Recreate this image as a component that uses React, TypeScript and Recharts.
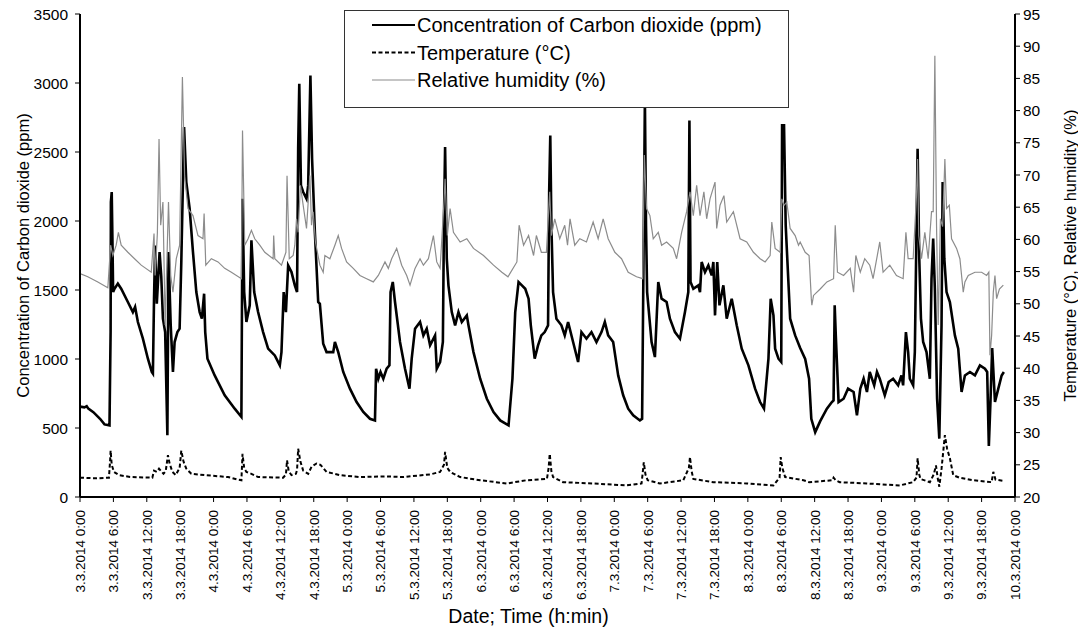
import React from 'react';
import { ComposedChart, Line, XAxis, YAxis } from 'recharts';

const FONT = '"Liberation Sans", Arial, sans-serif';

const xTicks = [0, 6, 12, 18, 24, 30, 36, 42, 48, 54, 60, 66, 72, 78, 84, 90, 96, 102, 108, 114, 120, 126, 132, 138, 144, 150, 156, 162, 168];
const xTickLabels = [
  '3.3.2014 0:00', '3.3.2014 6:00', '3.3.2014 12:00', '3.3.2014 18:00',
  '4.3.2014 0:00', '4.3.2014 6:00', '4.3.2014 12:00', '4.3.2014 18:00',
  '5.3.2014 0:00', '5.3.2014 6:00', '5.3.2014 12:00', '5.3.2014 18:00',
  '6.3.2014 0:00', '6.3.2014 6:00', '6.3.2014 12:00', '6.3.2014 18:00',
  '7.3.2014 0:00', '7.3.2014 6:00', '7.3.2014 12:00', '7.3.2014 18:00',
  '8.3.2014 0:00', '8.3.2014 6:00', '8.3.2014 12:00', '8.3.2014 18:00',
  '9.3.2014 0:00', '9.3.2014 6:00', '9.3.2014 12:00', '9.3.2014 18:00',
  '10.3.2014 0:00',
];
const leftTicks = [0, 500, 1000, 1500, 2000, 2500, 3000, 3500];
const rightTicks = [20, 25, 30, 35, 40, 45, 50, 55, 60, 65, 70, 75, 80, 85, 90, 95];

// [hours since 3.3.2014 0:00, ppm]
const co2Points: [number, number][] = [
  [0,655],[0.8,650],[1.2,658],[1.5,640],[2.4,615],[3.6,567],[4.4,526],[5.3,519],[5.5,1200],[5.55,2137],[5.7,2210],[5.85,1800],[5.95,1485],[6.2,1509],[6.8,1546],[7.4,1509],[8.6,1413],[9.5,1340],[9.9,1377],[10.4,1268],[11.3,1147],[12.2,1002],[12.9,906],[13.1,894],[13.3,1437],[13.5,1823],[13.8,1400],[14.3,1775],[14.6,1600],[14.9,1292],[15.3,1195],[15.7,447],[15.9,1775],[16.3,1244],[16.7,906],[17.0,1123],[17.5,1195],[17.9,1220],[18.2,1700],[18.7,2681],[19.1,2282],[19.7,2089],[20.3,1775],[20.9,1485],[21.5,1340],[21.9,1292],[22.3,1473],[22.5,1195],[22.9,1002],[24.2,881],[26,737],[27.8,640],[29.0,580],[29.2,2161],[29.5,1485],[29.9,1268],[30.5,1389],[30.8,1860],[31.3,1485],[32.0,1340],[32.9,1195],[33.8,1075],[35.0,1026],[35.9,954],[36.2,1050],[36.6,1485],[37.0,1340],[37.4,1678],[38.0,1630],[38.6,1534],[39.0,1485],[39.2,2523],[39.4,2995],[39.7,2258],[40.1,2210],[40.7,2161],[41.0,2258],[41.4,3055],[41.7,2451],[42.2,1920],[42.8,1413],[43.1,1400],[43.7,1110],[44.3,1050],[45.5,1050],[45.8,1123],[46.4,1050],[47.3,906],[48.5,785],[49.7,688],[50.9,616],[52.1,567],[53.0,555],[53.2,930],[53.6,857],[54.0,906],[54.5,857],[55.1,930],[55.6,954],[55.8,1485],[56.2,1558],[56.6,1413],[57.5,1123],[58.4,930],[59.2,785],[59.6,1002],[60.2,1220],[61.1,1268],[61.7,1171],[62.3,1220],[62.9,1099],[63.8,1171],[64.1,930],[64.7,978],[65.2,1123],[65.4,2017],[65.6,2536],[65.9,1727],[66.2,1534],[66.8,1340],[67.4,1244],[68.0,1340],[68.6,1268],[69.5,1316],[69.8,1244],[70.7,1050],[71.9,857],[73.1,712],[74.3,616],[75.5,555],[77.0,519],[77.2,616],[77.7,857],[78.2,1340],[78.8,1558],[79.4,1534],[80.0,1509],[80.6,1437],[81.0,1244],[81.7,1002],[82.3,1099],[82.9,1171],[83.5,1195],[84.1,1244],[84.3,2210],[84.5,2620],[84.7,1968],[85.0,1485],[85.6,1292],[86.5,1244],[87.1,1171],[87.7,1268],[88.6,1123],[89.5,978],[90.1,1195],[91.0,1147],[91.9,1195],[92.8,1123],[93.7,1195],[94.3,1268],[94.9,1171],[95.8,1123],[96.7,881],[97.6,737],[98.5,640],[99.4,592],[100.6,555],[101.0,567],[101.2,1485],[101.5,2886],[101.7,1968],[101.9,1485],[102.7,1123],[103.3,1014],[103.9,1558],[104.5,1437],[105.4,1413],[106.0,1292],[106.9,1195],[107.8,1147],[108.7,1340],[109.3,1485],[109.5,2729],[109.7,1558],[110.2,1509],[111.1,1534],[111.4,1485],[111.7,1703],[112.3,1630],[112.9,1678],[113.5,1606],[113.8,1703],[114.1,1316],[114.5,1703],[114.9,1389],[115.6,1534],[116.2,1292],[117.1,1437],[118.0,1244],[118.9,1075],[120.1,954],[121.3,785],[122.2,688],[122.9,640],[123.7,1002],[124.1,1437],[124.6,1316],[124.9,1075],[125.5,1002],[126.0,978],[126.15,2693],[126.5,2693],[126.8,1968],[127.6,1292],[128.5,1171],[129.4,1080],[130.3,1000],[131.0,857],[131.4,567],[132.1,470],[133.0,550],[134.2,640],[135.1,688],[135.4,700],[135.6,1389],[135.8,1171],[136.3,688],[137.2,712],[138.0,785],[139.0,761],[139.6,592],[140.2,785],[140.8,857],[141.4,761],[141.9,906],[142.7,809],[143.2,906],[143.7,857],[144.6,737],[145.3,833],[146.1,857],[147.0,809],[147.6,881],[147.9,809],[148.4,1195],[148.8,1050],[149.1,857],[149.7,809],[150.0,1050],[150.5,2523],[150.8,1727],[151.1,1292],[151.5,1123],[152.1,1050],[152.7,857],[153.0,1582],[153.3,1872],[153.6,1509],[154.0,712],[154.4,423],[154.8,1244],[155.0,2282],[155.3,1727],[155.7,1485],[156.3,1413],[157.2,1171],[157.8,1075],[158.4,761],[159.0,881],[159.9,906],[160.8,881],[161.7,954],[162.6,930],[163.0,906],[163.3,370],[163.6,700],[163.9,1080],[164.4,688],[165.0,785],[165.6,881],[166.0,906],
];

// [hours, °C]
const tempPoints: [number, number][] = [
  [0,23.0],[3,22.9],[5.2,23.0],[5.4,25.5],[5.5,27.2],[5.7,25],[6.1,23.9],[7,23.4],[9,23.1],[13,23.0],[13.3,24.1],[13.8,23.9],[14.2,24.4],[15.0,23.6],[15.4,24],[15.8,26.5],[16.1,25.2],[16.6,23.9],[17.2,23.4],[17.9,24.5],[18.2,27.2],[18.6,25.5],[19.1,24.4],[20,23.6],[22.4,23.4],[26.6,23.1],[28.4,22.7],[29.0,22.6],[29.2,26.7],[29.5,24.5],[29.9,23.9],[30.8,23.6],[32,23.1],[36.5,23.0],[37.0,23.5],[37.2,25.7],[37.5,24],[38,23.4],[38.8,23.6],[39.0,24.2],[39.2,27.5],[39.6,25.5],[40.1,24.1],[41.0,23.6],[41.6,24.7],[42.5,25.2],[43.2,25.0],[44.3,23.9],[46.7,23.4],[50.3,23.1],[55,23.2],[58,23.1],[62.9,23.5],[64.7,23.9],[65.4,25],[65.6,27.0],[66,24.5],[66.5,23.9],[68.3,23.1],[71.9,22.6],[76.7,22.1],[80.2,22.6],[83.9,22.8],[84.2,24.5],[84.4,26.7],[84.7,24.0],[85.0,23.1],[86.8,22.3],[92.2,22.1],[98.2,21.8],[100.9,22.1],[101.2,24.5],[101.3,25.4],[101.6,23.5],[102.0,22.6],[104.2,22.1],[108.4,22.6],[109.4,24.5],[109.6,26.2],[109.9,24],[110.2,22.8],[113.8,22.3],[119.8,22.1],[124.6,21.8],[125.7,23],[125.9,26.2],[126.2,24.5],[126.7,23.1],[130,22.6],[131,22.3],[135.2,22.6],[135.4,23.0],[135.8,22.6],[136.5,22.3],[141.4,22.1],[147.3,21.8],[149.7,22.3],[150.3,23],[150.5,26.0],[150.8,23.5],[151,22.8],[152.7,22.3],[153.4,23.5],[153.8,24.9],[154.1,23.0],[154.4,21.6],[154.8,24.4],[155.1,27],[155.4,29.6],[155.8,27.5],[156.3,26],[156.9,23.4],[158,23.0],[160.5,22.6],[163.8,22.3],[164.1,23.9],[164.5,22.7],[166,22.5],
];

// [hours, %]
const rhPoints: [number, number][] = [
  [0,54.7],[1.4,54.2],[3.2,53.4],[5.0,52.5],[5.5,59.1],[5.9,57.5],[6.5,59.1],[6.9,61.1],[7.4,59.1],[8.6,58],[9.8,57],[11.0,56],[12.8,54.9],[13.3,60.9],[13.5,54.4],[13.9,60.9],[14.2,75.6],[14.5,62.2],[14.9,65.8],[15.3,46.7],[15.9,65.8],[16.3,54.4],[16.7,51.8],[17.3,57],[17.9,59.1],[18.4,85.2],[18.8,69.9],[19.4,64.8],[20.3,63.7],[21.2,60.6],[22.1,60.1],[22.3,64],[22.6,56],[23.6,57],[24.8,56.5],[26.0,55.5],[27.2,54.9],[29.0,53.9],[29.2,76.9],[29.6,59.1],[30.2,60.1],[30.8,61.4],[31.4,60.1],[32.3,59.1],[33.2,58],[34.7,57],[34.8,60.6],[35.0,57],[36.2,56],[37.0,58],[37.2,69.9],[37.6,57],[38.3,57.5],[38.6,59.1],[38.9,63.2],[39.2,61.1],[39.6,68.4],[40.1,65.3],[40.7,61.7],[41.3,69.9],[41.6,62.2],[41.9,64.3],[42.3,59.6],[43.1,56],[43.7,54.9],[44.0,57.5],[44.9,57],[45.8,59.1],[46.4,60.6],[47.0,58.6],[47.9,56.5],[49.1,55.5],[50.3,54.4],[51.5,53.9],[52.7,53.4],[53.6,54.4],[54.8,56.5],[55.4,55.5],[56.0,57],[56.9,58.6],[57.8,56],[58.7,54.4],[59.3,52.9],[60.2,55.5],[61.1,57],[61.7,56],[62.6,57],[63.5,60.6],[64.1,56.5],[64.7,55.5],[65.4,65.8],[65.6,69.4],[66.0,60.6],[66.5,64.8],[67.1,61.1],[68.3,59.6],[69.5,60.1],[70.7,58.6],[72.5,57.5],[74.3,56],[75.8,54.9],[76.9,54.2],[78.5,56.5],[78.9,62.2],[79.7,59.1],[80.6,60.6],[81.5,57.5],[82.0,60.6],[82.9,58],[83.8,58],[84.4,67.4],[84.7,60.6],[85.3,63.2],[86.2,60.1],[87.1,62.2],[87.6,59.1],[88.05,63.2],[88.9,59.1],[89.8,60.1],[91.0,59.6],[92.2,62.7],[93.1,60.1],[94.0,63.2],[94.9,60.1],[96.1,58],[97.3,57],[98.5,54.9],[100.0,54.2],[101.1,53.9],[101.4,73.1],[101.8,64.8],[102.4,63.7],[103.0,60.1],[103.9,61.1],[104.5,59.1],[105.4,59.6],[106.6,58.6],[107.2,57],[108.1,61.1],[109.0,64.3],[109.6,67.4],[110.2,63.7],[110.8,68.4],[111.4,63.7],[112.1,67.4],[112.6,63.2],[113.2,66.3],[114.1,68.9],[114.4,61.7],[115.0,65.3],[115.7,66.8],[116.2,62.7],[117.4,64.3],[118.6,60.1],[119.8,59.6],[121.0,58],[122.2,57],[123.1,56.5],[124.0,57.5],[124.3,62.7],[124.9,58.6],[125.8,58],[126.1,66.3],[126.5,65.3],[127.0,65.8],[127.6,61.7],[128.5,60.6],[129.1,59.1],[129.4,59.6],[130.3,58],[131.0,57.5],[131.4,50.8],[131.5,49.8],[131.8,51.3],[133.0,52.3],[134.2,53.4],[135.4,53.9],[135.7,62.2],[136.1,54.9],[137.2,54.4],[138.4,55.5],[139.0,51.8],[139.4,57.5],[140.2,54.9],[141.0,57],[141.9,56],[142.5,53.9],[143.7,59.6],[144.3,54.9],[145.5,56],[146.7,54.4],[147.9,53.9],[148.4,61.1],[148.8,57],[149.7,57],[150.3,66.8],[150.5,72.5],[150.7,60.6],[151.2,57],[151.8,61.1],[152.4,57],[153.0,64.3],[153.3,64.3],[153.6,88.5],[153.9,62.2],[154.2,46.7],[154.6,63.2],[155.0,62],[155.4,72.5],[155.7,64.8],[156.2,65.3],[156.6,60.1],[157.5,58.6],[158.1,57],[158.7,51.8],[159.0,53.4],[159.6,54.4],[160.8,54.9],[162.0,54.9],[162.9,54.4],[163.3,54.9],[163.5,42],[163.8,45.1],[164.1,51.8],[164.4,54.4],[164.7,50.8],[165.2,52.3],[165.9,52.9],
];

const co2Data = co2Points.map(([h, v]) => ({ h, v }));
const tempData = tempPoints.map(([h, v]) => ({ h, v }));
const rhData = rhPoints.map(([h, v]) => ({ h, v }));

const XTick = (props: any) => {
  const { x, y, payload } = props;
  const idx = xTicks.indexOf(payload.value);
  return (
    <g transform={`translate(${x},${y})`}>
      <text transform="rotate(-90)" x={-6} y={0} dy="0.36em" textAnchor="end"
        fontSize={13.5} fontFamily={FONT} fill="#000">{xTickLabels[idx]}</text>
    </g>
  );
};

const legendItems = [
  { label: 'Concentration of Carbon dioxide (ppm)', stroke: '#000', width: 2, dash: undefined as string | undefined },
  { label: 'Temperature (°C)', stroke: '#000', width: 2, dash: '4 2.5' },
  { label: 'Relative humidity (%)', stroke: '#8c8c8c', width: 1.2, dash: undefined },
];

function ChartLegend() {
  return (
    <svg width={445} height={98} style={{ position: 'absolute', left: 344, top: 10, display: 'block' }}>
      <rect x={0.5} y={0.5} width={444} height={97} fill="#fff" stroke="#333" strokeWidth={1} />
      {legendItems.map((it, i) => (
        <g key={i}>
          <line x1={28} x2={71} y1={15 + i * 27.5} y2={15 + i * 27.5} stroke={it.stroke} strokeWidth={it.width} strokeDasharray={it.dash} />
          <text x={73} y={15 + i * 27.5} dy="0.35em" fontSize={20} fontFamily={FONT} fill="#000">{it.label}</text>
        </g>
      ))}
    </svg>
  );
}

export default function App() {
  return (
    <div style={{ position: 'relative', width: 1086, height: 630, margin: '-8px 0 0 -8px' }}>
      <ComposedChart width={1086} height={630} margin={{ top: 14, right: 0, bottom: 0, left: 0 }}>
        <XAxis
          type="number" dataKey="h" domain={[0, 168]} ticks={xTicks} interval={0}
          allowDataOverflow height={133} tickSize={5} tickMargin={2} tick={<XTick />}
          axisLine={{ stroke: '#000', strokeWidth: 2 }} tickLine={{ stroke: '#000' }}
          label={{ value: 'Date; Time (h:min)', position: 'insideBottom', offset: 7, dx: -19, style: { fontSize: 19.5, fontFamily: FONT, fill: '#000' } }}
        />
        <YAxis
          yAxisId="left" domain={[0, 3500]} ticks={leftTicks} interval={0} width={80}
          tickSize={5} tickMargin={7} allowDataOverflow
          tick={{ fontSize: 15.5, fontFamily: FONT, fill: '#000' }}
          axisLine={{ stroke: '#000', strokeWidth: 2 }} tickLine={{ stroke: '#000' }}
          label={{ value: 'Concentration of Carbon dioxide (ppm)', angle: -90, position: 'insideLeft', offset: 23, style: { textAnchor: 'middle', fontSize: 16.5, fontFamily: FONT, fill: '#000' } }}
        />
        <YAxis
          yAxisId="right" orientation="right" domain={[20, 95]} ticks={rightTicks} interval={0} width={71}
          tickSize={5} tickMargin={3} allowDataOverflow
          tick={{ fontSize: 15.5, fontFamily: FONT, fill: '#000' }}
          axisLine={{ stroke: '#000', strokeWidth: 2 }} tickLine={{ stroke: '#000' }}
          label={{ value: 'Temperature (°C), Relative humidity (%)', angle: -90, position: 'insideRight', offset: 16, style: { textAnchor: 'middle', fontSize: 16.5, fontFamily: FONT, fill: '#000' } }}
        />
        <Line data={co2Data} dataKey="v" yAxisId="left" type="linear" stroke="#000" strokeWidth={2.6}
          dot={false} activeDot={false} isAnimationActive={false} legendType="none" />
        <Line data={tempData} dataKey="v" yAxisId="right" type="linear" stroke="#000" strokeWidth={2}
          strokeDasharray="4 2.5" dot={false} activeDot={false} isAnimationActive={false} legendType="none" />
        <Line data={rhData} dataKey="v" yAxisId="right" type="linear" stroke="#8c8c8c" strokeWidth={1.2}
          dot={false} activeDot={false} isAnimationActive={false} legendType="none" />
      </ComposedChart>
      <ChartLegend />
    </div>
  );
}
